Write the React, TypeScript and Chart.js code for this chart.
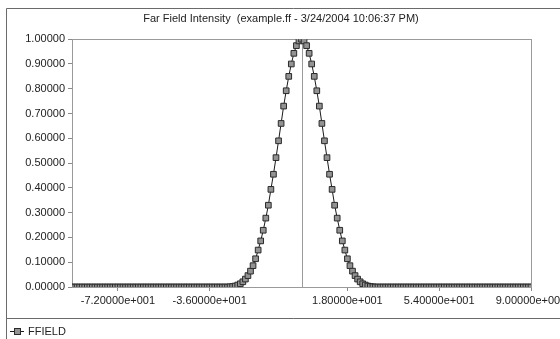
import React, { useEffect, useRef } from "react";
import { Chart, registerables } from "chart.js";

Chart.register(...registerables);

const chartTitle = "Far Field Intensity  (example.ff - 3/24/2004 10:06:37 PM)";
const seriesName = "FFIELD";
const angleStart = -90;
const angleStep = 1;
// intensity sampled every degree from -90 to 90
const intensity = [
  0, 0, 0, 0, 0, 0, 0, 0, 0, 0,
  0, 0, 0, 0, 0, 0, 0, 0, 0, 0,
  0, 0, 0, 0, 0, 0, 0, 0, 0, 0,
  0, 0, 0, 0, 0, 0, 0, 0, 0, 0,
  0, 0, 0, 0, 0, 0, 0, 0, 0, 0,
  0, 0, 0, 0, 0, 0, 0, 0, 0, 0,
  0, 0,
  0.001, 0.002, 0.004, 0.008, 0.013, 0.021, 0.032, 0.046, 0.064, 0.086,
  0.114, 0.149, 0.186, 0.229, 0.278, 0.330, 0.394, 0.455, 0.522, 0.590,
  0.660, 0.730, 0.792, 0.850, 0.900, 0.943, 0.974, 0.993,
  1.000,
  0.993, 0.974, 0.943, 0.900, 0.850, 0.792, 0.730, 0.660, 0.590, 0.522,
  0.455, 0.394, 0.330, 0.278, 0.229, 0.186, 0.149, 0.114, 0.086, 0.064,
  0.046, 0.032, 0.021, 0.013, 0.008, 0.004, 0.002, 0.001,
  0, 0,
  0, 0, 0, 0, 0, 0, 0, 0, 0, 0,
  0, 0, 0, 0, 0, 0, 0, 0, 0, 0,
  0, 0, 0, 0, 0, 0, 0, 0, 0, 0,
  0, 0, 0, 0, 0, 0, 0, 0, 0, 0,
  0, 0, 0, 0, 0, 0, 0, 0, 0, 0,
  0, 0, 0, 0, 0, 0, 0, 0, 0, 0,
];
const xTickValues = [-72, -36, 18, 54, 90];
const xMin = -90;
const xMax = 90;
const yMin = 0;
const yMax = 1;
const yTickStep = 0.1;

const FONT = "'Liberation Sans', Arial, sans-serif";
const TEXT = "#222";

function fmtExp(v: number): string {
  const s = v.toExponential(5);
  const [m, e] = s.split("e");
  const sign = e[0] === "-" ? "-" : "+";
  const digits = e.replace(/[+-]/, "").padStart(3, "0");
  return `${m}e${sign}${digits}`;
}

const framePlugin = {
  id: "framePlugin",
  beforeDraw(chart: any) {
    const ctx = chart.ctx;
    ctx.save();
    ctx.fillStyle = "#ffffff";
    ctx.fillRect(0, 0, chart.width, chart.height);
    ctx.strokeStyle = "#6a6a6a";
    ctx.lineWidth = 1;
    ctx.beginPath();
    ctx.moveTo(6.5, chart.height);
    ctx.lineTo(6.5, 8.5);
    ctx.lineTo(chart.width, 8.5);
    ctx.moveTo(6.5, 318.5);
    ctx.lineTo(chart.width, 318.5);
    ctx.stroke();
    ctx.restore();
  },
  beforeDatasetsDraw(chart: any) {
    const ctx = chart.ctx;
    const a = chart.chartArea;
    const xs = chart.scales.x;
    ctx.save();
    ctx.strokeStyle = "#9a9a9a";
    ctx.lineWidth = 1;
    ctx.strokeRect(Math.round(a.left) + 0.5, Math.round(a.top) + 0.5, Math.round(a.right - a.left), Math.round(a.bottom - a.top));
    const zx = Math.round(xs.getPixelForValue(0)) + 0.5;
    ctx.beginPath();
    ctx.moveTo(zx, a.top);
    ctx.lineTo(zx, a.bottom);
    ctx.stroke();
    ctx.restore();
  },
};

export default function App() {
  const canvasRef = useRef<HTMLCanvasElement | null>(null);

  useEffect(() => {
    document.body.style.margin = "0";
    const canvas = canvasRef.current;
    if (!canvas) return;
    const points = intensity.map((v, i) => ({ x: angleStart + i * angleStep, y: v }));
    const chart = new Chart(canvas, {
      type: "line",
      data: {
        datasets: [
          {
            label: seriesName,
            data: points,
            borderColor: "#1a1a1a",
            borderWidth: 1,
            pointStyle: "rect",
            pointRadius: 4,
            pointBackgroundColor: "#939393",
            pointBorderColor: "#2a2a2a",
            pointBorderWidth: 1,
            tension: 0,
          },
        ],
      },
      options: {
        responsive: false,
        animation: false,
        devicePixelRatio: 1,
        layout: { padding: { left: 31, right: 49, top: 0, bottom: 32 } },
        plugins: {
          legend: { display: false },
          tooltip: { enabled: false },
          title: {
            display: true,
            text: chartTitle,
            color: TEXT,
            font: { family: FONT, size: 11, weight: "normal", lineHeight: 1.2 },
            padding: { top: 12, bottom: 14 },
          },
        },
        scales: {
          x: {
            type: "linear",
            min: xMin,
            max: xMax,
            border: { display: false },
            grid: { display: true, drawOnChartArea: false, drawTicks: true, tickLength: 4, color: "#8a8a8a" },
            ticks: {
              autoSkip: false,
              maxRotation: 0,
              padding: 3,
              color: TEXT,
              font: { family: FONT, size: 11 },
              callback: (v: any) => fmtExp(Number(v)),
            },
            afterBuildTicks: (scale: any) => {
              scale.ticks = xTickValues.map((v) => ({ value: v }));
            },
            afterFit: (scale: any) => {
              scale.height = 20;
            },
          },
          y: {
            type: "linear",
            min: yMin,
            max: yMax,
            border: { display: false },
            grid: { display: true, drawOnChartArea: false, drawTicks: true, tickLength: 4, color: "#8a8a8a" },
            ticks: {
              stepSize: yTickStep,
              padding: 3,
              color: TEXT,
              font: { family: FONT, size: 11 },
              callback: (v: any) => Number(v).toFixed(5),
            },
            afterFit: (scale: any) => {
              scale.width = 41;
              // let the labels extend to the left of the (narrow) scale box
              scale._computeLabelArea = () => undefined;
            },
          },
        },
      },
      plugins: [framePlugin],
    });
    return () => chart.destroy();
  }, []);

  return (
    <div style={{ position: "fixed", left: 0, top: 0, width: 560, height: 339, overflow: "hidden", background: "#fff" }}>
      <canvas ref={canvasRef} width={580} height={339} style={{ position: "absolute", left: 0, top: 0 }} />
      <div style={{ position: "absolute", left: 10, top: 324, height: 14, display: "flex", alignItems: "center" }}>
        <div style={{ position: "relative", width: 14, height: 14 }}>
          <div style={{ position: "absolute", left: 0, top: 7, width: 14, height: 1, background: "#1a1a1a" }} />
          <div style={{ position: "absolute", left: 4, top: 4, width: 5, height: 5, background: "#939393", border: "1px solid #2a2a2a" }} />
        </div>
        <span style={{ marginLeft: 4, fontFamily: FONT, fontSize: 11, color: TEXT }}>{seriesName}</span>
      </div>
    </div>
  );
}
